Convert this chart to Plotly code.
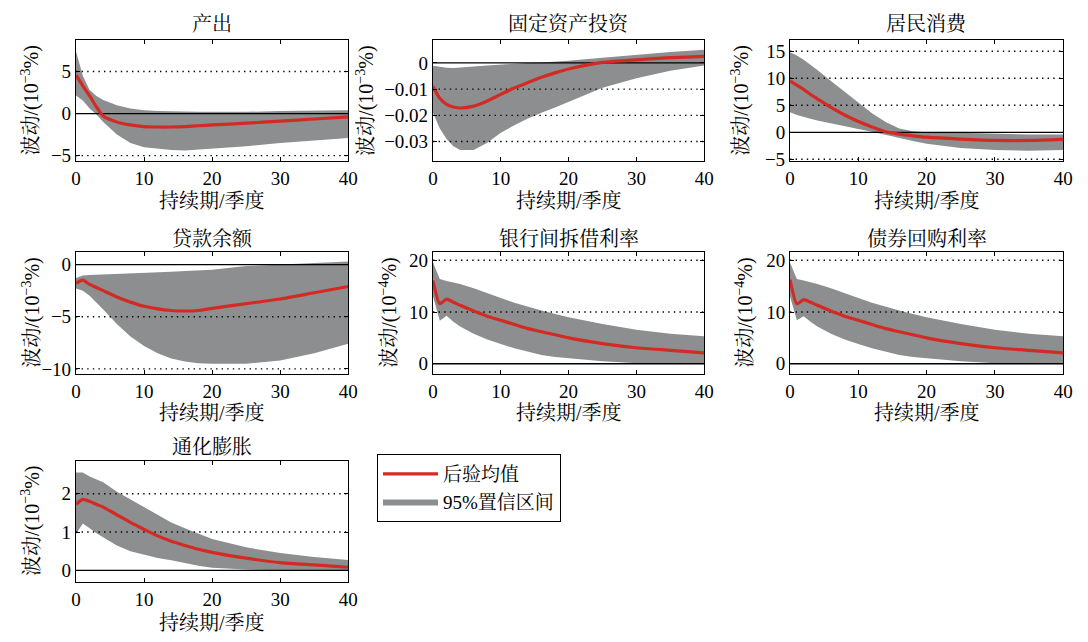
import plotly.graph_objects as go

W, H = 1088, 642

# ---------------- data ----------------
X = [0, 1, 2, 3, 4, 6, 8, 10, 12, 14, 16, 18, 20, 25, 30, 35, 40]

titles = ["产出", "固定资产投资", "居民消费", "贷款余额", "银行间拆借利率", "债券回购利率", "通化膨胀"]

out_mean = [4.6, 3.3, 2.1, 0.8, -0.3, -1.0, -1.35, -1.55, -1.6, -1.6, -1.55, -1.45, -1.35, -1.15, -0.9, -0.65, -0.4]
out_hi = [7.4, 4.5, 2.8, 2.1, 1.6, 1.0, 0.6, 0.4, 0.3, 0.3, 0.25, 0.2, 0.2, 0.2, 0.3, 0.35, 0.4]
out_lo = [2.15, 1.55, 0.6, -0.1, -1.0, -2.5, -3.5, -4.0, -4.2, -4.35, -4.4, -4.3, -4.2, -3.9, -3.5, -3.2, -2.9]

inv_mean = [-0.009, -0.0135, -0.0158, -0.0168, -0.0172, -0.0165, -0.0145, -0.0120, -0.0095, -0.0075, -0.0055, -0.0038, -0.0023, 0.0002, 0.0012, 0.0020, 0.0025]
inv_hi = [-0.0011, -0.0015, -0.0018, -0.0019, -0.0018, -0.0014, -0.0010, -0.0006, -0.0003, 0.0, 0.0002, 0.0005, 0.0008, 0.0020, 0.0032, 0.0042, 0.0050]
inv_lo = [-0.019, -0.025, -0.029, -0.0318, -0.0332, -0.0332, -0.0305, -0.0266, -0.0238, -0.0212, -0.0190, -0.0170, -0.0150, -0.0095, -0.0058, -0.0030, -0.0010]

con_mean = [9.5, 8.7, 7.9, 7.0, 6.2, 4.6, 3.2, 2.0, 1.0, 0.1, -0.35, -0.65, -0.9, -1.25, -1.5, -1.5, -1.3]
con_hi = [14.8, 14.2, 13.4, 12.5, 11.5, 9.5, 7.5, 5.4, 3.5, 1.9, 0.7, 0.2, 0.0, -0.1, -0.3, -0.4, -0.4]
con_lo = [3.7, 3.2, 2.8, 2.5, 2.2, 1.6, 1.1, 0.6, 0.1, -0.4, -1.0, -1.6, -2.1, -2.9, -3.3, -3.4, -3.3]

loan_mean = [-1.8, -1.5, -1.9, -2.2, -2.5, -3.1, -3.6, -4.0, -4.25, -4.4, -4.45, -4.4, -4.2, -3.75, -3.3, -2.7, -2.1]
loan_hi = [-1.3, -1.05, -1.0, -0.98, -0.95, -0.9, -0.85, -0.8, -0.75, -0.7, -0.62, -0.55, -0.5, -0.15, 0.0, 0.15, 0.3]
loan_lo = [-2.3, -2.5, -3.0, -3.6, -4.3, -5.7, -6.9, -7.8, -8.5, -9.0, -9.3, -9.45, -9.5, -9.5, -9.2, -8.5, -7.6]

ibr_mean = [16.1, 11.6, 12.5, 11.9, 11.3, 10.2, 9.2, 8.4, 7.6, 6.8, 6.2, 5.6, 5.0, 3.9, 3.1, 2.6, 2.1]
ibr_hi = [19.6, 16.4, 16.0, 15.7, 15.4, 14.6, 13.6, 12.7, 11.8, 11.0, 10.3, 9.6, 9.0, 7.7, 6.6, 5.8, 5.3]
ibr_lo = [13.0, 8.3, 9.3, 8.1, 7.2, 5.8, 4.7, 3.8, 3.0, 2.3, 1.7, 1.3, 1.0, 0.5, 0.1, 0.0, 0.0]

repo_mean = [16.3, 11.6, 12.4, 11.9, 11.3, 10.2, 9.2, 8.4, 7.6, 6.8, 6.2, 5.6, 5.0, 3.9, 3.1, 2.6, 2.1]
repo_hi = [19.6, 16.4, 16.1, 15.8, 15.4, 14.6, 13.6, 12.7, 11.8, 11.0, 10.3, 9.6, 9.0, 7.7, 6.6, 5.8, 5.3]
repo_lo = [13.0, 8.4, 9.2, 8.1, 7.2, 5.8, 4.7, 3.8, 3.0, 2.3, 1.7, 1.3, 1.0, 0.5, 0.1, 0.0, 0.0]

inf_mean = [1.72, 1.85, 1.80, 1.72, 1.65, 1.45, 1.25, 1.07, 0.90, 0.76, 0.65, 0.55, 0.47, 0.32, 0.20, 0.14, 0.08]
inf_hi = [2.55, 2.55, 2.45, 2.38, 2.30, 2.05, 1.85, 1.65, 1.45, 1.25, 1.10, 0.95, 0.82, 0.60, 0.45, 0.35, 0.27]
inf_lo = [0.95, 1.22, 1.10, 0.97, 0.85, 0.65, 0.50, 0.40, 0.32, 0.26, 0.20, 0.12, 0.07, 0.02, 0.0, 0.0, 0.0]

means = [out_mean, inv_mean, con_mean, loan_mean, ibr_mean, repo_mean, inf_mean]
his = [out_hi, inv_hi, con_hi, loan_hi, ibr_hi, repo_hi, inf_hi]
los = [out_lo, inv_lo, con_lo, loan_lo, ibr_lo, repo_lo, inf_lo]

y_ticks = [[-5, 0, 5], [-0.03, -0.02, -0.01, 0], [-5, 0, 5, 10, 15], [-10, -5, 0],
           [0, 10, 20], [0, 10, 20], [0, 1, 2]]
y_ticktext = [["−5", "0", "5"], ["−0.03", "−0.02", "−0.01", "0"], ["−5", "0", "5", "10", "15"],
              ["−10", "−5", "0"], ["0", "10", "20"], ["0", "10", "20"], ["0", "1", "2"]]
y_ranges = [[-5.7, 8.7], [-0.0376, 0.0086], [-5.4, 17], [-10.5, 1.2], [-2.0, 21.6], [-2.0, 21.6], [-0.3, 2.86]]
exponents = ["−3", "−3", "−3", "−3", "−4", "−4", "−3"]
x_ticks = [0, 10, 20, 30, 40]

legend_names = ["后验均值", "95%置信区间"]
x_label = "持续期/季度"
y_label = "波动/(10<sup>{}</sup>%)"

# ---------------- layout geometry (pixels) ----------------
cols_px = [(72, 348), (434, 709), (796, 1073)]
rows_px = [(39, 162), (254, 378), (466, 589)]
pos = [(0, 0), (0, 1), (0, 2), (1, 0), (1, 1), (1, 2), (2, 0)]
title_y = [22, 241, 452]
xlab_y = [202, 418, 631]
ylab_x = [[26, 366, 746], [26, 388, 749], [26, None, None]]

def px(x):
    return x / W

def py(y):
    return 1 - y / H

BAND = "#8c8e90"
RED = "#d42a24"
FONT = "Liberation Serif, Noto Serif CJK SC, Noto Sans CJK SC, serif"

fig = go.Figure()
annotations = []
for i in range(7):
    r, c = pos[i]
    ax = "" if i == 0 else str(i + 1)
    xref, yref = "x" + ax, "y" + ax
    # band
    fig.add_trace(go.Scatter(
        x=X + X[::-1], y=his[i] + los[i][::-1], fill="toself", fillcolor=BAND,
        line=dict(width=0, color=BAND), mode="lines", name=legend_names[1],
        showlegend=(i == 0), legendrank=2, xaxis=xref, yaxis=yref, hoverinfo="skip"))
    # dotted grid lines (above band)
    gx, gy = [], []
    for v in y_ticks[i]:
        if v != 0:
            gx += [X[0], X[-1], None]
            gy += [v, v, None]
    fig.add_trace(go.Scatter(x=gx, y=gy, mode="lines", showlegend=False,
                             line=dict(color="black", width=1.4, dash="1.4px,4.2px"),
                             xaxis=xref, yaxis=yref, hoverinfo="skip"))
    # zero line
    fig.add_trace(go.Scatter(x=[X[0], X[-1]], y=[0, 0], mode="lines", showlegend=False,
                             line=dict(color="black", width=1.3),
                             xaxis=xref, yaxis=yref, hoverinfo="skip"))
    # mean
    fig.add_trace(go.Scatter(x=X, y=means[i], mode="lines", name=legend_names[0],
                             line=dict(color=RED, width=3.2, shape="spline", smoothing=0.6),
                             showlegend=(i == 0), legendrank=1,
                             xaxis=xref, yaxis=yref))

    xd = [px(cols_px[c][0]), px(cols_px[c][1])]
    yd = [py(rows_px[r][1]), py(rows_px[r][0])]
    common = dict(showline=True, linecolor="black", linewidth=1.2, mirror="allticks",
                  ticks="inside", ticklen=4, tickcolor="black", tickwidth=1,
                  showgrid=False, zeroline=False,
                  tickfont=dict(family=FONT, size=19, color="black"))
    fig.update_layout(**{
        "xaxis" + ax: dict(domain=xd, range=[0, 40], tickvals=x_ticks, anchor=yref, **common),
        "yaxis" + ax: dict(domain=yd, range=y_ranges[i], tickvals=y_ticks[i],
                           ticktext=y_ticktext[i], anchor=xref, **common),
    })
    cx = (cols_px[c][0] + cols_px[c][1]) / 2
    annotations.append(dict(x=px(cx), y=py(title_y[r]), xref="paper", yref="paper",
                            text=titles[i], showarrow=False, xanchor="center", yanchor="middle",
                            font=dict(family=FONT, size=20, color="black")))
    annotations.append(dict(x=px(cx), y=py(xlab_y[r]), xref="paper", yref="paper",
                            text=x_label, showarrow=False, xanchor="center", yanchor="middle",
                            font=dict(family=FONT, size=20, color="black")))
    cy = (rows_px[r][0] + rows_px[r][1]) / 2
    annotations.append(dict(x=px(ylab_x[r][c]), y=py(cy), xref="paper", yref="paper",
                            text=y_label.format(exponents[i]), showarrow=False, textangle=-90,
                            xanchor="center", yanchor="middle",
                            font=dict(family=FONT, size=20, color="black")))

fig.update_layout(
    width=W, height=H, margin=dict(l=0, r=0, t=0, b=0),
    paper_bgcolor="white", plot_bgcolor="white",
    annotations=annotations,
    showlegend=True,
    legend=dict(x=px(377), y=py(459), xanchor="left", yanchor="top",
                bordercolor="black", borderwidth=1.2, bgcolor="white",
                font=dict(family=FONT, size=19, color="black"),
                itemwidth=55, tracegroupgap=0),
)

fig.write_html("out.html", config={"responsive": False, "displayModeBar": False},
               post_script="document.body.style.margin='0';document.body.style.overflow='hidden';")
